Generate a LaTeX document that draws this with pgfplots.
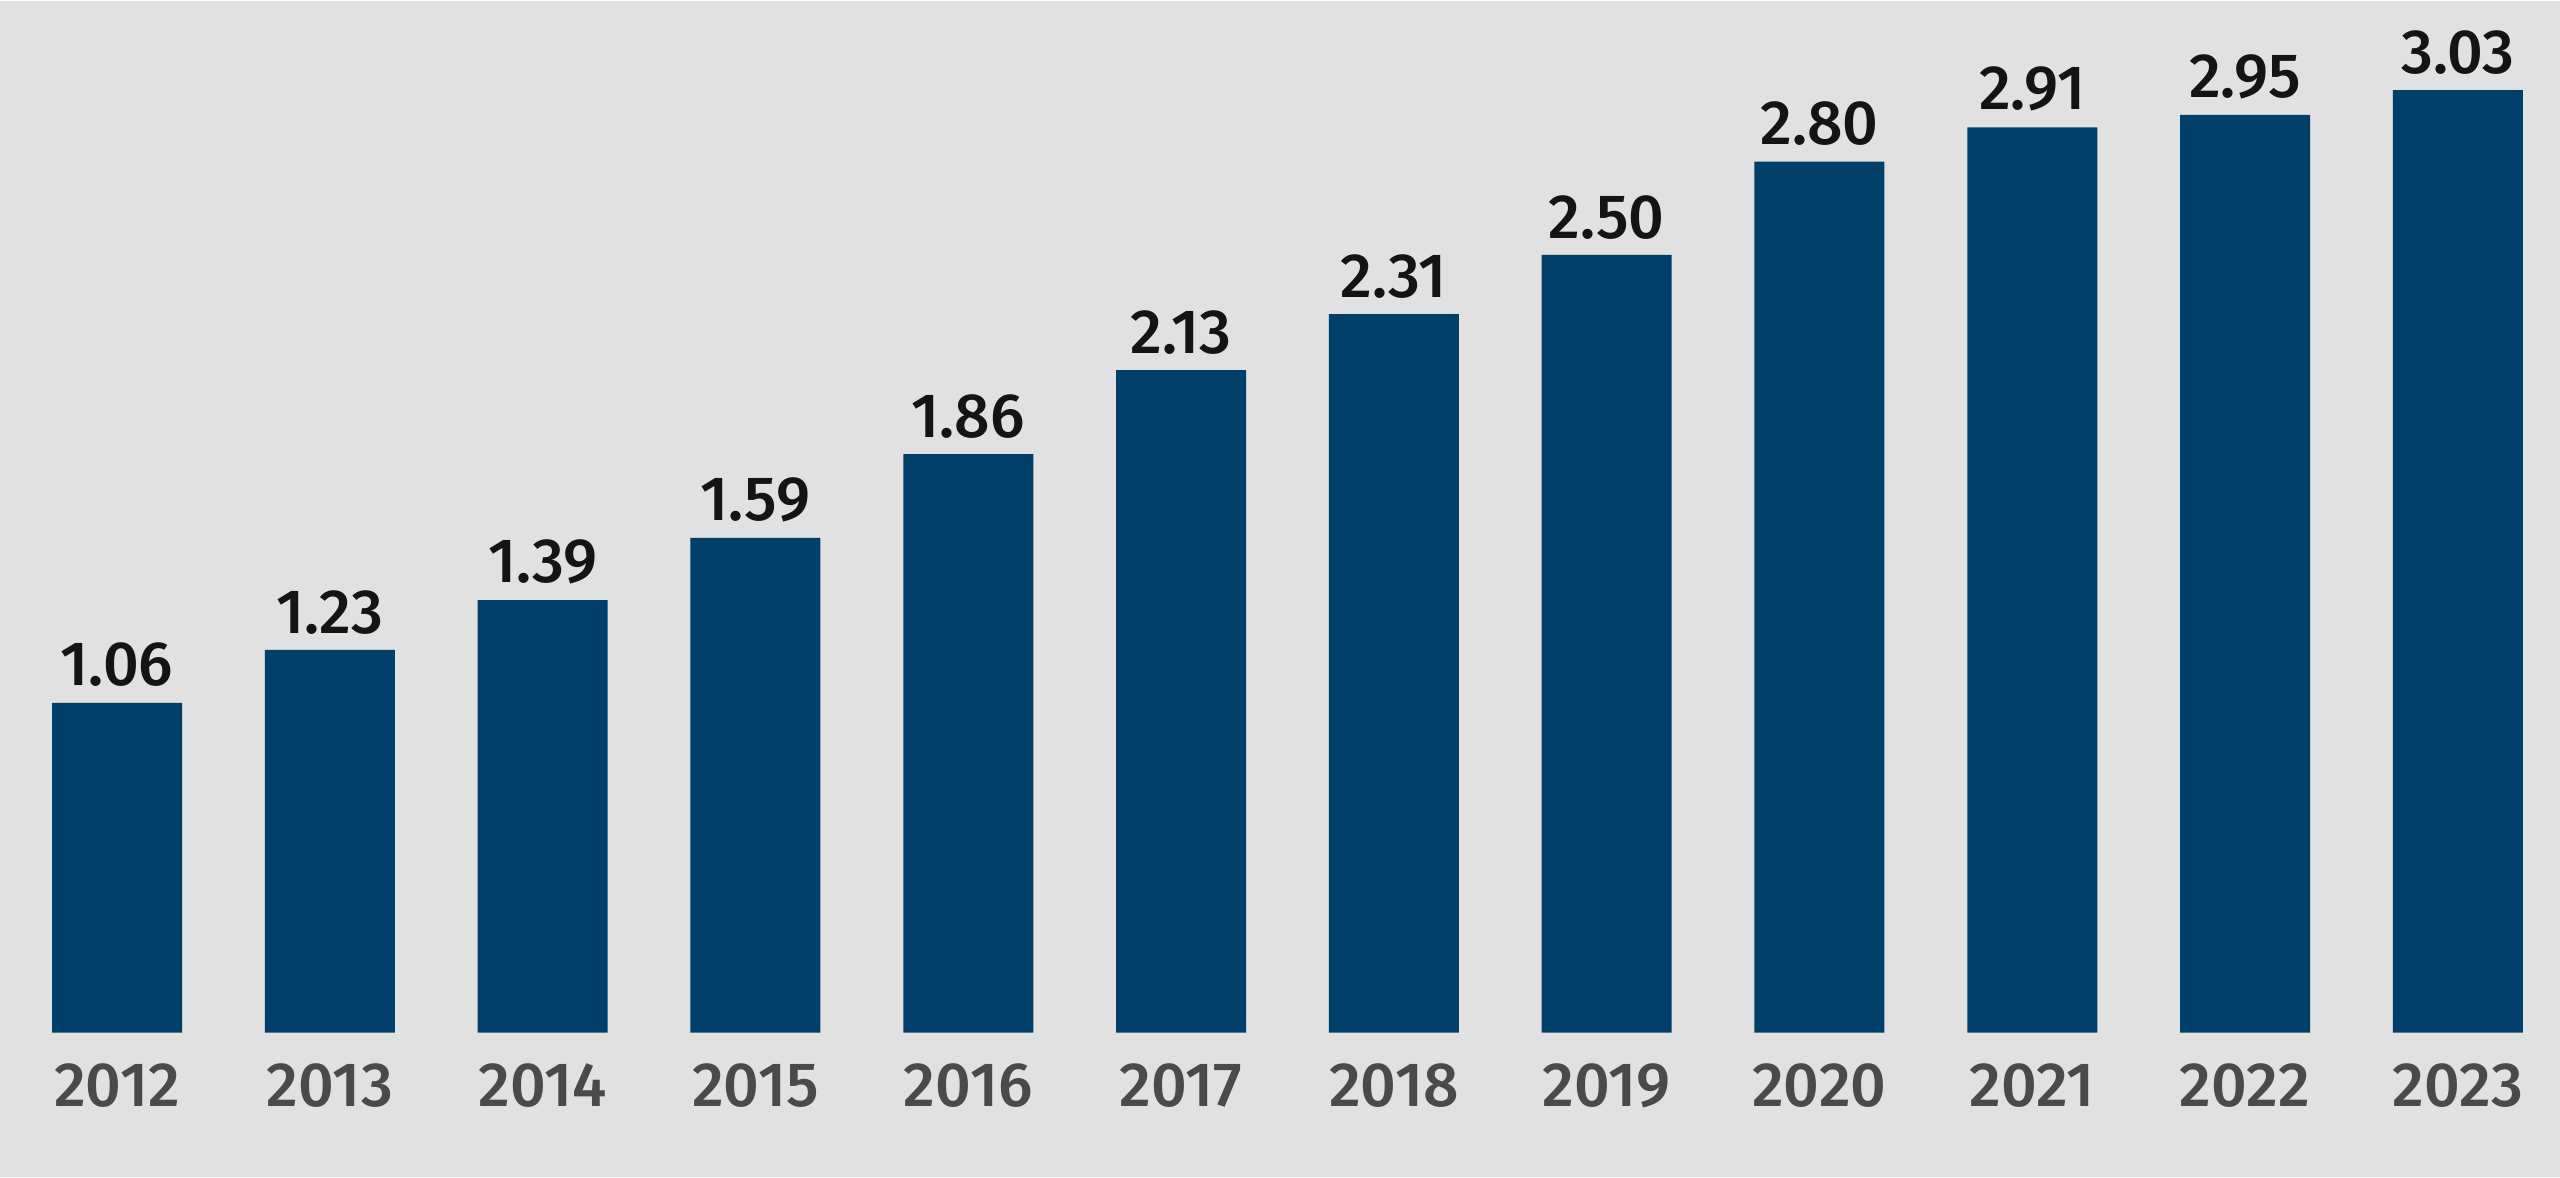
\documentclass[border=0pt]{standalone}
\usepackage{fontspec}
\setmainfont{Fira Sans}[UprightFont={* Medium}]
\usepackage{pgfplots}
\pgfplotsset{compat=1.18}
\definecolor{bgray}{HTML}{E1E1E1}
\definecolor{nblue}{HTML}{003F6A}
\definecolor{ytext}{HTML}{4A4A4A}
\definecolor{vtext}{HTML}{141414}
\begin{document}
\begin{tikzpicture}
\begin{axis}[
    scale only axis,
    width=512pt, height=235.4pt,
    xmin=-0.55, xmax=11.48,
    ymin=-0.466, ymax=3.318,
    axis background/.style={fill=bgray},
    axis line style={draw=none},
    major tick length=0pt,
    ytick=\empty,
    xtick={0,...,11},
    xticklabels={2012,2013,2014,2015,2016,2017,2018,2019,2020,2021,2022,2023},
    xticklabel style={inner sep=0pt, anchor=north, yshift=23pt,
        text=ytext, font=\fontsize{12.5}{14}\selectfont},
    ybar, bar width=26pt,
    nodes near coords,
    /pgf/number format/.cd, fixed, fixed zerofill, precision=2, assume math mode=true,
    /pgfplots/.cd,
    every node near coord/.append style={inner sep=0pt, anchor=south, yshift=3pt,
        text=vtext, font=\fontsize{12.5}{14}\selectfont},
]
\addplot[draw=none, fill=nblue] coordinates {
    (0,1.06) (1,1.23) (2,1.39) (3,1.59) (4,1.86) (5,2.13)
    (6,2.31) (7,2.50) (8,2.80) (9,2.91) (10,2.95) (11,3.03)};
\end{axis}
\end{tikzpicture}
\end{document}
